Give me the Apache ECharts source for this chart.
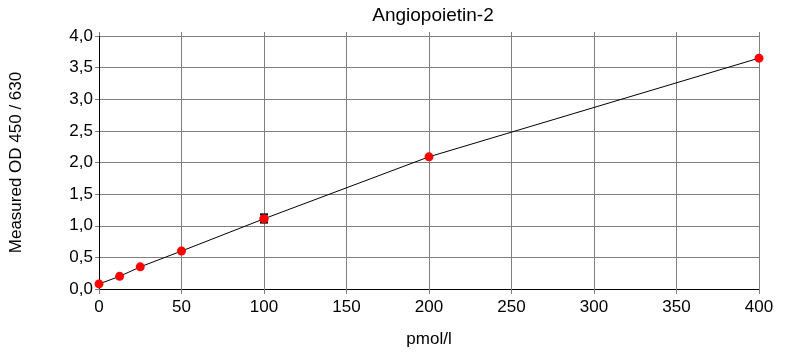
<!DOCTYPE html>
<html>
<head>
<meta charset="utf-8">
<script src="https://cdn.jsdelivr.net/npm/echarts@6/dist/echarts.min.js"></script>
<style>
  html, body { margin: 0; padding: 0; background: #fff; }
  #chart { width: 793px; height: 353px; }
</style>
</head>
<body>
<div id="chart"></div>
<script>
    // standard concentrations (pmol/l) and measured OD
    var concentrations = [0, 12.5, 25, 50, 100, 200, 400]
    var odValues = [0.08, 0.2, 0.35, 0.6, 1.11, 2.09, 3.65]
    // error bar at 100 pmol/l
    var errX = [100]
    var errLow = [1.05]
    var errHigh = [1.18]
    var xTicks = [0, 50, 100, 150, 200, 250, 300, 350, 400]
    var yTicks = [0, 0.5, 1, 1.5, 2, 2.5, 3, 3.5, 4]

    var font = '"Liberation Sans", Arial, sans-serif'
    var chart = echarts.init(document.getElementById('chart'))

    var points = concentrations.map(function (c, i) { return [c, odValues[i]] })
    var errData = errX.map(function (x, i) {
        return [x, errLow[i], errHigh[i], odValues[concentrations.indexOf(x)]]
    })

    chart.setOption({
        animation: false,
        title: {
            text: 'Angiopoietin-2',
            left: 428,
            textAlign: 'center',
            top: 1,
            textStyle: { fontFamily: font, fontSize: 19, fontWeight: 'normal', color: '#000' }
        },
        grid: { left: 98, right: 34, top: 36, bottom: 64 },
        xAxis: [{
            type: 'value',
            min: xTicks[0],
            max: xTicks[xTicks.length - 1],
            interval: 50,
            name: 'pmol/l',
            nameLocation: 'middle',
            nameGap: 42,
            nameTextStyle: { fontFamily: font, fontSize: 17, color: '#000' },
            axisLine: { lineStyle: { color: '#000', width: 1 } },
            axisTick: { show: true, length: 5, lineStyle: { color: '#808080' } },
            axisLabel: { fontFamily: font, fontSize: 17, color: '#000', margin: 10 },
            splitLine: { show: true, lineStyle: { color: '#808080', width: 1 } }
        }, {
            type: 'value',
            position: 'top',
            min: xTicks[0],
            max: xTicks[xTicks.length - 1],
            interval: 50,
            axisLine: { show: false },
            axisTick: { show: true, length: 4, lineStyle: { color: '#808080' } },
            axisLabel: { show: false },
            splitLine: { show: false }
        }],
        yAxis: {
            type: 'value',
            min: yTicks[0],
            max: yTicks[yTicks.length - 1],
            interval: 0.5,
            name: 'Measured OD 450 / 630',
            nameLocation: 'middle',
            nameGap: 74,
            nameTextStyle: { fontFamily: font, fontSize: 17, color: '#000' },
            axisLine: { show: true, lineStyle: { color: '#000', width: 1 } },
            axisTick: { show: true, length: 4, lineStyle: { color: '#808080' } },
            axisLabel: {
                fontFamily: font, fontSize: 17, color: '#000', margin: 6,
                formatter: function (v) { return v.toFixed(1).replace('.', ',') }
            },
            splitLine: { show: true, lineStyle: { color: '#808080', width: 1 } }
        },
        series: [
            {
                type: 'line',
                data: points,
                smooth: false,
                symbol: 'circle',
                symbolSize: 9,
                itemStyle: { color: '#ff0000' },
                lineStyle: { color: '#000', width: 1 },
                z: 3
            },
            {
                type: 'custom',
                data: errData,
                z: 4,
                renderItem: function (params, api) {
                    var top = api.coord([api.value(0), api.value(2)])
                    var bot = api.coord([api.value(0), api.value(1)])
                    var mid = api.coord([api.value(0), api.value(3)])
                    var w = 4
                    var style = { stroke: '#000', lineWidth: 2 }
                    return {
                        type: 'group',
                        children: [
                            { type: 'line', shape: { x1: top[0], y1: top[1], x2: bot[0], y2: bot[1] }, style: style },
                            { type: 'line', shape: { x1: top[0] - w, y1: top[1], x2: top[0] + w, y2: top[1] }, style: style },
                            { type: 'line', shape: { x1: bot[0] - w, y1: bot[1], x2: bot[0] + w, y2: bot[1] }, style: style },
                            { type: 'circle', shape: { cx: mid[0], cy: mid[1], r: 4.5 }, style: { fill: '#ff0000' } }
                        ]
                    }
                }
            }
        ]
    })
</script>
</body>
</html>
